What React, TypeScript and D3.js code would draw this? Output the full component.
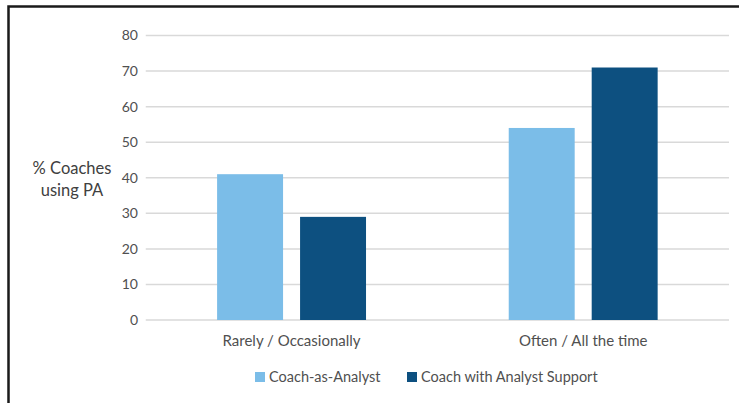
import React, {FC, useEffect, useRef} from 'react';
import * as d3 from 'd3';

const categories = ['Rarely / Occasionally', 'Often / All the time'];
const seriesNames = ['Coach-as-Analyst', 'Coach with Analyst Support'];
const coachAsAnalyst = [41, 54];
const coachWithSupport = [29, 71];
const yTicks = [0, 10, 20, 30, 40, 50, 60, 70, 80];

const colors = ['#7bbde8', '#0d5080'];
const FONT = 'Lato, "Open Sans", sans-serif';

const App: FC = () => {
  const ref = useRef<SVGSVGElement>(null);
  const width = 739,
    height = 403;
  const margin = {top: 35.5, right: 10, bottom: 83, left: 145.75};

  useEffect(() => {
    const svg = d3.select(ref.current);
    svg.selectAll('*').remove();

    // frame of the figure
    svg
      .append('rect')
      .attr('x', 8.5)
      .attr('y', 6.5)
      .attr('width', 760)
      .attr('height', 420)
      .attr('fill', 'white')
      .attr('stroke', '#1a1a1a')
      .attr('stroke-width', 2.5);

    const g = svg.append('g');

    const x0 = d3.scaleBand<string>().domain(categories).range([margin.left, 729]).padding(0);
    const x1 = d3
      .scaleBand<string>()
      .domain(seriesNames)
      .range([0, x0.bandwidth()])
      .paddingInner(0.205)
      .paddingOuter(0.86);
    const y = d3.scaleLinear().domain([0, 80]).range([320, margin.top]);

    // gridlines
    g.append('g')
      .selectAll('line')
      .data(yTicks)
      .enter()
      .append('line')
      .attr('x1', margin.left)
      .attr('x2', 729)
      .attr('y1', d => y(d))
      .attr('y2', d => y(d))
      .attr('stroke', '#d9d9d9')
      .attr('stroke-width', 1.5);

    // y tick labels
    g.append('g')
      .selectAll('text')
      .data(yTicks)
      .enter()
      .append('text')
      .attr('x', 138)
      .attr('y', d => y(d))
      .attr('dy', '0.35em')
      .attr('text-anchor', 'end')
      .attr('font-family', FONT)
      .attr('font-size', 14)
      .attr('fill', '#505050')
      .text(d => d);

    // y axis title
    const title = g
      .append('text')
      .attr('text-anchor', 'middle')
      .attr('font-family', FONT)
      .attr('font-size', 16.5)
      .attr('fill', '#404040');
    title.append('tspan').attr('x', 72).attr('y', 174).text('% Coaches');
    title.append('tspan').attr('x', 72).attr('y', 196).text('using PA');

    // bars
    const allSeries = [coachAsAnalyst, coachWithSupport];
    seriesNames.forEach((name, si) => {
      g.append('g')
        .selectAll('rect')
        .data(allSeries[si])
        .enter()
        .append('rect')
        .attr('x', (_, i) => (x0(categories[i]) || 0) + (x1(name) || 0))
        .attr('width', x1.bandwidth())
        .attr('y', d => y(d))
        .attr('height', d => y(0) - y(d))
        .attr('fill', colors[si]);
    });

    // category labels
    g.append('g')
      .selectAll('text')
      .data(categories)
      .enter()
      .append('text')
      .attr('x', d => (x0(d) || 0) + x0.bandwidth() / 2)
      .attr('y', 346)
      .attr('text-anchor', 'middle')
      .attr('font-family', FONT)
      .attr('font-size', 15)
      .attr('fill', '#505050')
      .text(d => d);

    // legend
    const legendX = [255, 407];
    const legend = g
      .append('g')
      .selectAll('g')
      .data(seriesNames)
      .enter()
      .append('g')
      .attr('transform', (_, i) => `translate(${legendX[i]}, 377)`);
    legend
      .append('rect')
      .attr('x', 0)
      .attr('y', -5)
      .attr('width', 10)
      .attr('height', 10)
      .attr('fill', (_, i) => colors[i]);
    legend
      .append('text')
      .attr('x', 14)
      .attr('y', 0)
      .attr('dy', '0.35em')
      .attr('font-family', FONT)
      .attr('font-size', 14.5)
      .attr('fill', '#505050')
      .text(d => d);
  }, []);

  return (
    <div style={{position: 'absolute', left: 0, top: 0, background: 'white'}}>
      <svg ref={ref} width={width} height={height} style={{display: 'block'}} />
    </div>
  );
};

export default App;
